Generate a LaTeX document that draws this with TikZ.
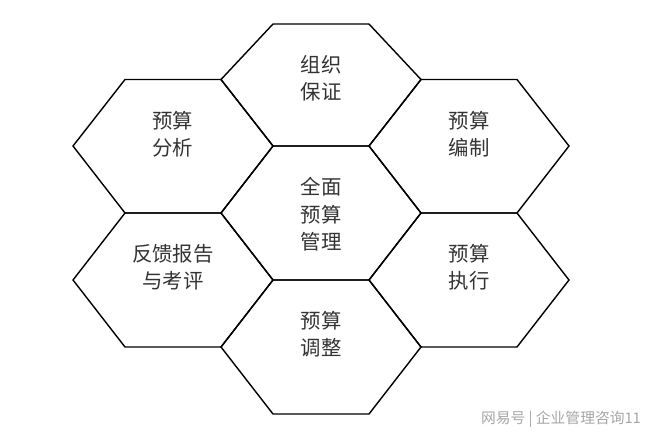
\documentclass[tikz,border=0pt]{standalone}
\usepackage{fontspec}
\setmainfont{Noto Sans CJK SC}
\usepackage{tikz}
\usetikzlibrary{calc}
\definecolor{textgray}{RGB}{51,51,51}
\tikzset{
	hexline/.style={line width=1pt, black, line join=miter},
	hextext/.style={anchor=north, inner sep=0pt, align=center, text=textgray, font=\fontsize{14.5}{19.5}\selectfont},
	marktext/.style={inner sep=0pt, text=black!35, font=\fontsize{10.5}{12}\selectfont}
}
% half width and half width of the flat top edge (px)
\def\hexA{100}
\def\hexB{48}
% (centre x, top y, middle y, bottom y) name text
\def\hexcell(#1,#2,#3,#4)#5#6{%
	\draw[hexline] (#1-\hexA,#3) -- (#1-\hexB,#2) -- (#1+\hexB,#2) -- (#1+\hexA,#3) -- (#1+\hexB,#4) -- (#1-\hexB,#4) -- cycle;
	\node[hextext] (#5) at (#1,#2+31) {#6};
}

\begin{document}
\begin{tikzpicture}[x=0.025cm, y=-0.025cm]
			%%%%% START %%%%%
			\useasboundingbox (0,0) rectangle (660,442);
			
			\hexcell(321,24,79.5,146){org}{组织\\保证}
			\hexcell(321,146,213,280){core}{全面\\预算\\管理}
			\hexcell(321,280,347,414){adjust}{预算\\调整}
			
			\hexcell(173,79.5,146,213){analysis}{预算\\分析}
			\hexcell(173,213,280,347){feedback}{反馈报告\\与考评}
			
			\hexcell(469,79.5,146,213){compile}{预算\\编制}
			\hexcell(469,213,280,347){execute}{预算\\执行}
			
			\node[marktext] (mark) at (561,419) {网易号 | 企业管理咨询11};
			%%%%% END %%%%%
\end{tikzpicture}
\end{document}
